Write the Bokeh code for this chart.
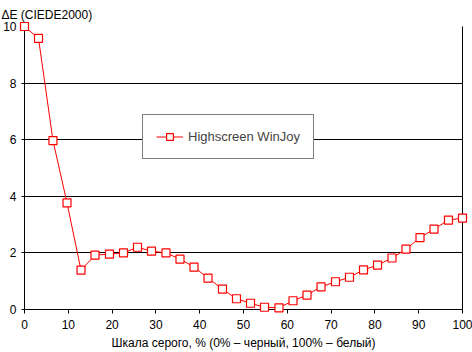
from bokeh.plotting import figure
from bokeh.models import Range1d, LinearAxis, Legend, LegendItem, FixedTicker
from bokeh.embed import file_html
from bokeh.resources import INLINE

gray_pct = [0, 3.2, 6.5, 9.7, 12.9, 16.1, 19.4, 22.6, 25.8, 29.0, 32.3, 35.5, 38.7, 41.9, 45.2, 48.4,
            51.6, 54.8, 58.1, 61.3, 64.5, 67.7, 71.0, 74.2, 77.4, 80.6, 83.9, 87.1, 90.3, 93.5, 96.8, 100]
delta_e = [10.0, 9.58, 5.97, 3.77, 1.39, 1.92, 1.96, 2.0, 2.2, 2.06, 2.0, 1.78, 1.5, 1.11, 0.72, 0.38,
           0.22, 0.08, 0.06, 0.31, 0.51, 0.8, 0.98, 1.14, 1.4, 1.57, 1.82, 2.13, 2.54, 2.84, 3.16, 3.23]
series_name = "Highscreen WinJoy"
x_ticks = [0, 10, 20, 30, 40, 50, 60, 70, 80, 90, 100]
y_ticks = [0, 2, 4, 6, 8, 10]

FONT = "Liberation Sans"

p = figure(width=472, height=352, output_backend="svg", toolbar_location=None,
           x_range=Range1d(0, 100), y_range=Range1d(0, 10),
           min_border_left=23, min_border_right=10, min_border_top=0, min_border_bottom=43,
           title="ΔE (CIEDE2000)")
p.title.text_font = FONT
p.title.text_font_size = "12px"
p.title.text_font_style = "normal"
p.title.align = "left"
p.title.offset = -23
p.title.text_color = "black"

p.outline_line_color = None
p.background_fill_color = "white"
p.border_fill_color = "white"

p.xgrid.grid_line_color = None
p.ygrid.grid_line_color = "black"
p.ygrid.grid_line_width = 1
p.ygrid.ticker = FixedTicker(ticks=y_ticks)

for ax in (p.xaxis[0], p.yaxis[0]):
    ax.axis_line_color = "black"
    ax.major_tick_line_color = "black"
    ax.minor_tick_line_color = None
    ax.major_tick_in = 0
    ax.major_label_text_font = FONT
    ax.major_label_text_font_size = "12px"
    ax.major_label_text_color = "black"

p.xaxis.ticker = FixedTicker(ticks=x_ticks)
p.yaxis.ticker = FixedTicker(ticks=y_ticks)
p.xaxis.major_tick_out = 4
p.yaxis.major_tick_out = 3
p.xaxis.major_label_standoff = 6
p.yaxis.major_label_standoff = 5
p.xaxis.axis_label = "Шкала серого, % (0% – черный, 100% – белый)"
p.xaxis.axis_label_text_font = FONT
p.xaxis.axis_label_text_font_size = "12px"
p.xaxis.axis_label_text_font_style = "normal"
p.xaxis.axis_label_text_color = "black"
p.xaxis.axis_label_standoff = 4

right = LinearAxis(ticker=FixedTicker(ticks=[]), major_label_text_font_size="0px",
                   axis_line_color="black", major_tick_line_color=None, minor_tick_line_color=None)
p.add_layout(right, "right")

ln = p.line(gray_pct, delta_e, line_color="red", line_width=1, level="overlay")
sq = p.scatter(gray_pct, delta_e, marker="square", size=8, fill_color="white",
               line_color="red", line_width=1.2, level="overlay")

legend = Legend(items=[LegendItem(label=series_name, renderers=[ln, sq])],
                location=(118, 150), orientation="vertical",
                border_line_color="black", border_line_width=1, background_fill_color="white",
                background_fill_alpha=1, label_text_font=FONT, label_text_font_size="13px",
                padding=13, spacing=0, margin=0, glyph_width=27, glyph_height=17,
                label_height=17, label_standoff=5)
p.add_layout(legend, "center")

open("out.html", "w").write(file_html(p, INLINE))
